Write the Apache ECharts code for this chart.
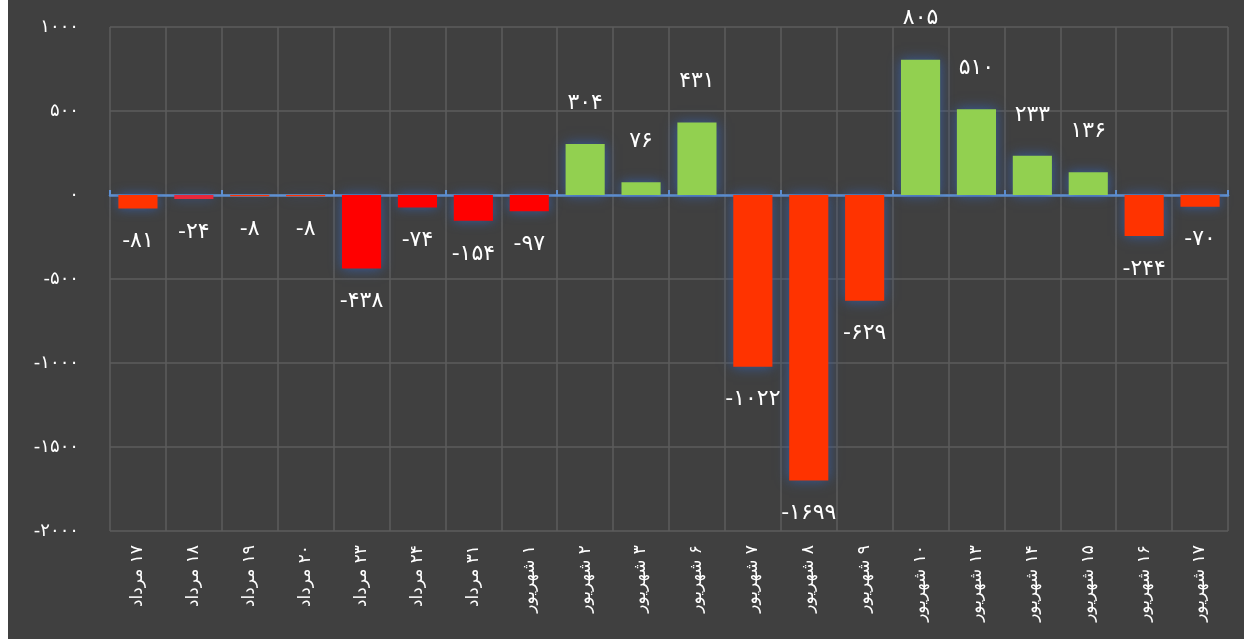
<!DOCTYPE html>
<html>
<head>
<meta charset="utf-8">
<script src="https://cdn.jsdelivr.net/npm/echarts@6/dist/echarts.min.js"></script>
<style>
html,body{margin:0;padding:0;background:#ffffff;}
#chart{position:absolute;left:8px;top:0;width:1236px;height:639px;background:#404040;}
</style>
</head>
<body>
<div id="chart"></div>
<script>
const categories = ['۱۷ مرداد','۱۸ مرداد','۱۹ مرداد','۲۰ مرداد','۲۳ مرداد','۲۴ مرداد','۳۱ مرداد','۱ شهریور','۲ شهریور','۳ شهریور','۶ شهریور','۷ شهریور','۸ شهریور','۹ شهریور','۱۰ شهریور','۱۳ شهریور','۱۴ شهریور','۱۵ شهریور','۱۶ شهریور','۱۷ شهریور'];
const values = [-81,-24,-8,-8,-438,-74,-154,-97,304,76,431,-1022,-1699,-629,805,510,233,136,-244,-70];
const yTicks = [1000,500,0,-500,-1000,-1500,-2000];

const barColors = ['#ff3300','#e8283c','#ff3300','#ff3300','#ff0000','#ff0000','#ff0000','#ff0000','#92d050','#92d050','#92d050','#ff3300','#ff3300','#ff3300','#92d050','#92d050','#92d050','#92d050','#ff3300','#ff3300'];

const fa = s => String(s).replace(/\d/g, d => '۰۱۲۳۴۵۶۷۸۹'[d]);
const FONT = '"DejaVu Sans", sans-serif';

const chart = echarts.init(document.getElementById('chart'));
chart.setOption({
  animation: false,
  backgroundColor: '#404040',
  grid: {left: 102, right: 16, top: 27, bottom: 108},
  xAxis: [{
    type: 'category',
    data: categories,
    position: 'bottom',
    axisLine: {show: false, onZero: false},
    axisTick: {show: false},
    splitLine: {show: true, lineStyle: {color: '#5c5c5c', width: 1.5}},
    axisLabel: {
      rotate: 90, interval: 0, margin: 14,
      color: '#ffffff', fontSize: 17, fontFamily: FONT,
      formatter: v => '\u200F' + v
    }
  }, {
    type: 'category',
    data: categories,
    position: 'top',
    axisLine: {show: true, onZero: true, lineStyle: {color: '#6092d4', width: 2.5}},
    axisTick: {show: true, length: 5, lineStyle: {color: '#6092d4', width: 2}},
    axisLabel: {show: false},
    splitLine: {show: false}
  }],
  yAxis: {
    type: 'value',
    min: -2000, max: 1000, interval: 500,
    axisLine: {show: false},
    axisTick: {show: false},
    splitLine: {show: true, lineStyle: {color: '#5c5c5c', width: 1.5}},
    axisLabel: {
      color: '#ffffff', fontSize: 18, fontFamily: FONT, margin: 31,
      verticalAlign: 'middle', padding: [0, 0, 8, 0],
      formatter: v => fa(v)
    }
  },
  series: [{
    type: 'bar',
    xAxisIndex: 0,
    barCategoryGap: '30%',
    data: values.map((v, i) => ({
      value: v,
      itemStyle: {color: barColors[i]},
      label: {position: v < 0 ? 'bottom' : 'top', distance: v < 0 ? 22 : 30}
    })),
    itemStyle: {shadowColor: 'rgba(55,95,165,0.95)', shadowBlur: 12},
    label: {
      show: true,
      color: '#ffffff', fontSize: 22, fontFamily: FONT,
      formatter: p => fa(p.value)
    }
  }]
});
</script>
</body>
</html>
